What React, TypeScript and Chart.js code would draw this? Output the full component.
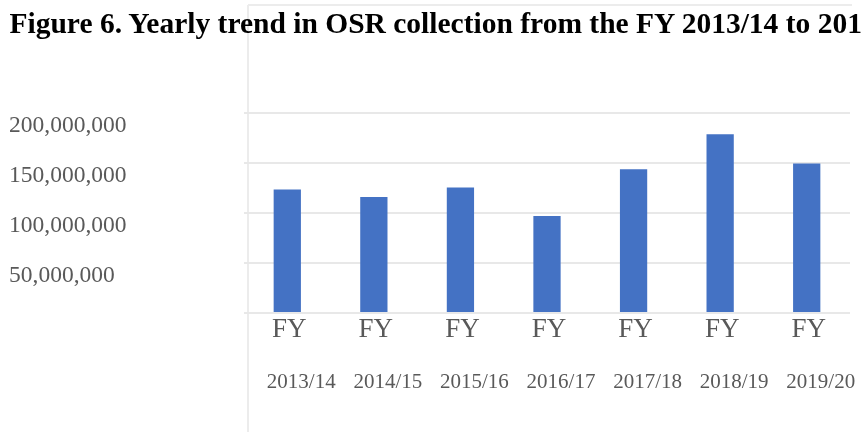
import React, { useEffect, useRef } from "react";
import { Chart, registerables } from "chart.js";

Chart.register(...registerables);

const TITLE = "Figure 6. Yearly trend in OSR collection from the FY 2013/14 to 2019/20";
const PREFIX_LABELS = ["FY", "FY", "FY", "FY", "FY", "FY", "FY"];
const YEAR_LABELS = ["2013/14", "2014/15", "2015/16", "2016/17", "2017/18", "2018/19", "2019/20"];
const OSR_VALUES = [123500000, 116000000, 125500000, 97000000, 143700000, 178700000, 149400000];
const Y_MIN = 0;
const Y_MAX = 200000000;
const Y_STEP = 50000000;

const SERIF = "'Times New Roman', 'Liberation Serif', serif";

const framePlugin = {
  id: "frameLines",
  beforeDraw(chart: any) {
    const { ctx, chartArea } = chart;
    ctx.save();
    ctx.strokeStyle = "#ececec";
    ctx.lineWidth = 2;
    const x = Math.round(chartArea.left + 4);
    ctx.beginPath();
    ctx.moveTo(x, 5);
    ctx.lineTo(x, chart.height);
    ctx.moveTo(x, 5);
    ctx.lineTo(chartArea.right + 2, 5);
    ctx.stroke();
    ctx.restore();
  },
};

const noPad = (s: any) => {
  s.paddingLeft = 0;
  s.paddingRight = 0;
  s.paddingTop = 0;
  s.paddingBottom = 0;
};

export default function App() {
  const ref = useRef<HTMLCanvasElement | null>(null);

  useEffect(() => {
    if (!ref.current) return;
    const chart = new Chart(ref.current, {
      type: "bar",
      data: {
        labels: PREFIX_LABELS,
        datasets: [
          {
            label: "OSR collection",
            data: OSR_VALUES,
            backgroundColor: "#4472C4",
            borderWidth: 0,
            categoryPercentage: 1,
            barPercentage: 0.315,
          },
        ],
      },
      options: {
        animation: false,
        responsive: false,
        devicePixelRatio: 1,
        layout: { padding: { left: 9, right: 12, top: 113, bottom: 31 } },
        plugins: {
          legend: { display: false },
          title: { display: false },
          tooltip: { enabled: false },
        },
        scales: {
          x: {
            type: "category",
            position: "bottom",
            grid: { display: false, drawTicks: false },
            border: { display: false },
            ticks: {
              color: "#595959",
              font: { family: SERIF, size: 27, lineHeight: 1 },
              padding: 3,
              maxRotation: 0,
              autoSkip: false,
              labelOffset: 2,
            },
            afterFit: (s: any) => {
              s.height = 28;
              noPad(s);
            },
          },
          x2: {
            type: "category",
            position: "bottom",
            labels: YEAR_LABELS,
            grid: { display: false, drawTicks: false },
            border: { display: false },
            ticks: {
              color: "#595959",
              font: { family: SERIF, size: 21, lineHeight: 1 },
              padding: 31,
              maxRotation: 0,
              autoSkip: false,
              labelOffset: 14,
            },
            afterFit: (s: any) => {
              s.height = 60;
              noPad(s);
            },
          },
          y: {
            min: Y_MIN,
            max: Y_MAX,
            border: { display: false },
            grid: {
              color: "#e8e8e8",
              lineWidth: 2,
              drawTicks: false,
            },
            ticks: {
              stepSize: Y_STEP,
              color: "#595959",
              font: { family: SERIF, size: 23.5 },
              crossAlign: "far",
              labelOffset: 12.7,
              padding: 0,
              callback: (v: any) => (Number(v) === 0 ? "" : Number(v).toLocaleString("en-US")),
            },
            afterFit: (s: any) => {
              s.width = 235;
              noPad(s);
            },
          },
        },
      },
      plugins: [framePlugin],
    });
    return () => chart.destroy();
  }, []);

  return (
    <div
      style={{
        position: "absolute",
        left: 0,
        top: 0,
        width: 862,
        height: 432,
        overflow: "hidden",
        background: "#ffffff",
      }}
    >
      <canvas ref={ref} width={862} height={432} style={{ position: "absolute", left: 0, top: 0, width: 862, height: 432 }} />
      <div
        style={{
          position: "absolute",
          left: 9.5,
          top: 9.4,
          fontFamily: SERIF,
          fontWeight: "bold",
          fontSize: 29.5,
          lineHeight: "29.5px",
          whiteSpace: "nowrap",
          color: "#000000",
        }}
      >
        {TITLE}
      </div>
    </div>
  );
}
